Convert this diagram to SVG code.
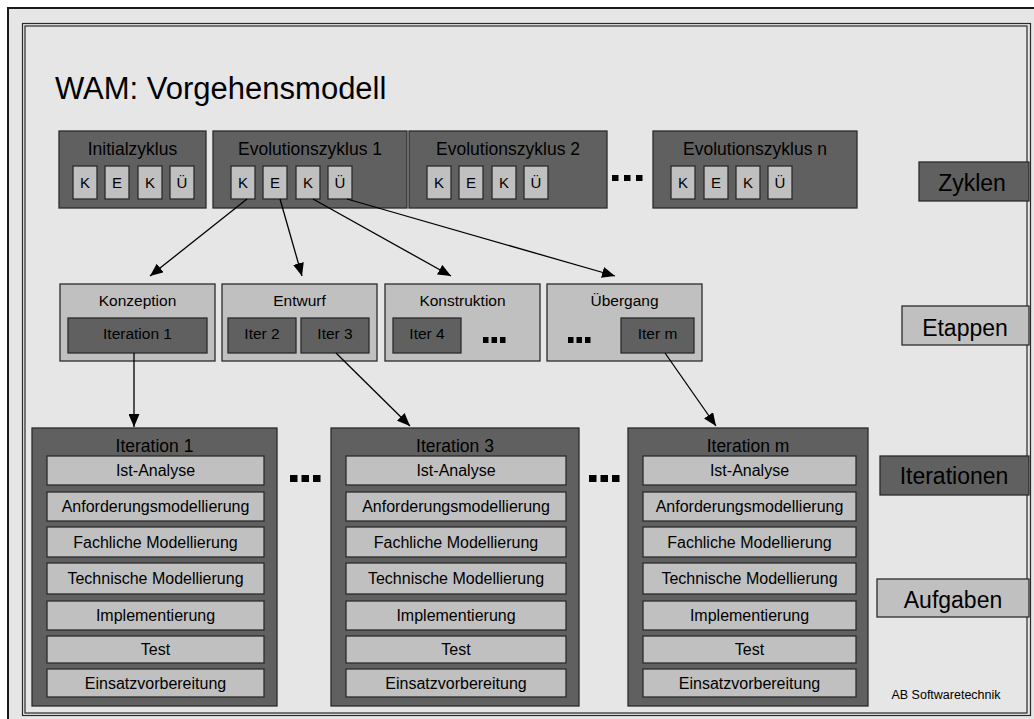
<svg xmlns="http://www.w3.org/2000/svg" width="1034" height="719" viewBox="0 0 1034 719">
  <defs>
    <style>
      text { font-family: "Liberation Sans", Arial, sans-serif; fill: #000; text-anchor: middle; }
      .dk { fill: #606060; stroke: #2b2b2b; stroke-width: 1.3; }
      .lt { fill: #c0c0c0; stroke: #2b2b2b; stroke-width: 1.3; }
      .frame { fill: none; stroke: #2a2a2a; stroke-width: 1.2; }
      .conn { fill: none; stroke: #000; stroke-width: 1.3; }
      .dots { fill: #000; }
      .cyc { font-size: 17.5px; }
      .kek { font-size: 15px; }
      .stg { font-size: 15.5px; }
      .it { font-size: 15.5px; }
      .ititle { font-size: 17.5px; }
      .task { font-size: 16px; }
      .side { font-size: 23px; }
    </style>
    <marker id="arrow" markerUnits="userSpaceOnUse" markerWidth="13" markerHeight="11" refX="13" refY="5.5" orient="auto">
      <path d="M0,0 L13,5.5 L0,11 Z" fill="#000"/>
    </marker>
  </defs>

  <!-- page background and frames -->
  <rect x="0" y="0" width="1034" height="719" fill="#ffffff"/>
  <rect x="8" y="8" width="1040" height="720" fill="#e6e6e6" stroke="#1a1a1a" stroke-width="2"/>
  <rect class="frame" x="22.5" y="23.5" width="1008" height="692"/>
  <rect class="frame" x="25" y="26" width="1002" height="687"/>

  <text x="55" y="99" style="font-size:31px;text-anchor:start">WAM: Vorgehensmodell</text>

  <!-- cycles -->
  <g id="initialzyklus">
    <rect class="dk" x="59" y="131" width="147" height="77"/>
    <text class="cyc" x="132.5" y="155">Initialzyklus</text>
    <rect class="lt" x="73" y="166" width="24" height="33"/><text class="kek" x="85" y="188">K</text>
    <rect class="lt" x="105" y="166" width="24" height="33"/><text class="kek" x="117" y="188">E</text>
    <rect class="lt" x="138" y="166" width="24" height="33"/><text class="kek" x="150" y="188">K</text>
    <rect class="lt" x="170" y="166" width="24" height="33"/><text class="kek" x="182" y="188">Ü</text>
  </g>
  <g id="evolutionszyklus-1">
    <rect class="dk" x="213" y="131" width="194" height="77"/>
    <text class="cyc" x="310" y="155">Evolutionszyklus 1</text>
    <rect class="lt" x="231" y="166" width="24" height="33"/><text class="kek" x="243" y="188">K</text>
    <rect class="lt" x="263" y="166" width="24" height="33"/><text class="kek" x="275" y="188">E</text>
    <rect class="lt" x="296" y="166" width="24" height="33"/><text class="kek" x="308" y="188">K</text>
    <rect class="lt" x="328" y="166" width="24" height="33"/><text class="kek" x="340" y="188">Ü</text>
  </g>
  <g id="evolutionszyklus-2">
    <rect class="dk" x="409" y="131" width="198" height="77"/>
    <text class="cyc" x="508" y="155">Evolutionszyklus 2</text>
    <rect class="lt" x="427" y="166" width="24" height="33"/><text class="kek" x="439" y="188">K</text>
    <rect class="lt" x="459" y="166" width="24" height="33"/><text class="kek" x="471" y="188">E</text>
    <rect class="lt" x="492" y="166" width="24" height="33"/><text class="kek" x="504" y="188">K</text>
    <rect class="lt" x="524" y="166" width="24" height="33"/><text class="kek" x="536" y="188">Ü</text>
  </g>
  <g id="cycle-dots" class="dots">
    <rect x="612" y="175" width="6.5" height="6"/>
    <rect x="624" y="175" width="6.5" height="6"/>
    <rect x="636" y="175" width="6.5" height="6"/>
  </g>
  <g id="evolutionszyklus-n">
    <rect class="dk" x="653" y="131" width="204" height="77"/>
    <text class="cyc" x="755" y="155">Evolutionszyklus n</text>
    <rect class="lt" x="671" y="166" width="24" height="33"/><text class="kek" x="683" y="188">K</text>
    <rect class="lt" x="704" y="166" width="24" height="33"/><text class="kek" x="716" y="188">E</text>
    <rect class="lt" x="736" y="166" width="24" height="33"/><text class="kek" x="748" y="188">K</text>
    <rect class="lt" x="768" y="166" width="24" height="33"/><text class="kek" x="780" y="188">Ü</text>
  </g>

  <!-- stages -->
  <g id="konzeption">
    <rect class="lt" x="60" y="284" width="155" height="77"/>
    <text class="stg" x="137.5" y="306">Konzeption</text>
    <rect class="dk" x="68" y="318" width="139" height="35"/>
    <text class="it" x="137.5" y="339">Iteration 1</text>
  </g>
  <g id="entwurf">
    <rect class="lt" x="222" y="284" width="155" height="77"/>
    <text class="stg" x="299.5" y="306">Entwurf</text>
    <rect class="dk" x="228" y="318" width="68" height="35"/>
    <text class="it" x="262" y="339">Iter 2</text>
    <rect class="dk" x="301" y="318" width="68" height="35"/>
    <text class="it" x="335" y="339">Iter 3</text>
  </g>
  <g id="konstruktion">
    <rect class="lt" x="385" y="284" width="155" height="77"/>
    <text class="stg" x="462.5" y="306">Konstruktion</text>
    <rect class="dk" x="393" y="318" width="68" height="35"/>
    <text class="it" x="427" y="339">Iter 4</text>
    <g class="dots">
      <rect x="483" y="337" width="5.5" height="6"/>
      <rect x="491.5" y="337" width="5.5" height="6"/>
      <rect x="500" y="337" width="5.5" height="6"/>
    </g>
  </g>
  <g id="uebergang">
    <rect class="lt" x="547" y="284" width="155" height="77"/>
    <text class="stg" x="624.5" y="306">Übergang</text>
    <g class="dots">
      <rect x="568" y="337" width="5.5" height="6"/>
      <rect x="576.5" y="337" width="5.5" height="6"/>
      <rect x="585" y="337" width="5.5" height="6"/>
    </g>
    <rect class="dk" x="621" y="318" width="73" height="35"/>
    <text class="it" x="657.5" y="339">Iter m</text>
  </g>

  <!-- iterations with their tasks -->
  <g id="iteration-1">
    <rect class="dk" x="32" y="428" width="245" height="278"/>
    <text class="ititle" x="154.5" y="452">Iteration 1</text>
    <rect class="lt" x="47" y="456" width="217" height="29"/><text class="task" x="155.5" y="476">Ist-Analyse</text>
    <rect class="lt" x="47" y="492" width="217" height="29"/><text class="task" x="155.5" y="512">Anforderungsmodellierung</text>
    <rect class="lt" x="47" y="527" width="217" height="30"/><text class="task" x="155.5" y="548">Fachliche Modellierung</text>
    <rect class="lt" x="47" y="563" width="217" height="31"/><text class="task" x="155.5" y="584">Technische Modellierung</text>
    <rect class="lt" x="47" y="601" width="217" height="29"/><text class="task" x="155.5" y="621">Implementierung</text>
    <rect class="lt" x="47" y="636" width="217" height="27"/><text class="task" x="155.5" y="655">Test</text>
    <rect class="lt" x="47" y="669" width="217" height="28"/><text class="task" x="155.5" y="689">Einsatzvorbereitung</text>
  </g>
  <g id="iteration-dots-1" class="dots">
    <rect x="290" y="475" width="7.5" height="7"/>
    <rect x="301.5" y="475" width="7.5" height="7"/>
    <rect x="313" y="475" width="7.5" height="7"/>
  </g>
  <g id="iteration-3">
    <rect class="dk" x="331" y="428" width="248" height="278"/>
    <text class="ititle" x="455" y="452">Iteration 3</text>
    <rect class="lt" x="346" y="456" width="220" height="29"/><text class="task" x="456" y="476">Ist-Analyse</text>
    <rect class="lt" x="346" y="492" width="220" height="29"/><text class="task" x="456" y="512">Anforderungsmodellierung</text>
    <rect class="lt" x="346" y="527" width="220" height="30"/><text class="task" x="456" y="548">Fachliche Modellierung</text>
    <rect class="lt" x="346" y="563" width="220" height="31"/><text class="task" x="456" y="584">Technische Modellierung</text>
    <rect class="lt" x="346" y="601" width="220" height="29"/><text class="task" x="456" y="621">Implementierung</text>
    <rect class="lt" x="346" y="636" width="220" height="27"/><text class="task" x="456" y="655">Test</text>
    <rect class="lt" x="346" y="669" width="220" height="28"/><text class="task" x="456" y="689">Einsatzvorbereitung</text>
  </g>
  <g id="iteration-dots-2" class="dots">
    <rect x="589" y="475" width="7.5" height="7"/>
    <rect x="600.5" y="475" width="7.5" height="7"/>
    <rect x="612" y="475" width="7.5" height="7"/>
  </g>
  <g id="iteration-m">
    <rect class="dk" x="628" y="428" width="240" height="278"/>
    <text class="ititle" x="748" y="452">Iteration m</text>
    <rect class="lt" x="643" y="456" width="213" height="29"/><text class="task" x="749.5" y="476">Ist-Analyse</text>
    <rect class="lt" x="643" y="492" width="213" height="29"/><text class="task" x="749.5" y="512">Anforderungsmodellierung</text>
    <rect class="lt" x="643" y="527" width="213" height="30"/><text class="task" x="749.5" y="548">Fachliche Modellierung</text>
    <rect class="lt" x="643" y="563" width="213" height="31"/><text class="task" x="749.5" y="584">Technische Modellierung</text>
    <rect class="lt" x="643" y="601" width="213" height="29"/><text class="task" x="749.5" y="621">Implementierung</text>
    <rect class="lt" x="643" y="636" width="213" height="27"/><text class="task" x="749.5" y="655">Test</text>
    <rect class="lt" x="643" y="669" width="213" height="28"/><text class="task" x="749.5" y="689">Einsatzvorbereitung</text>
  </g>

  <!-- level labels on the right -->
  <g id="label-zyklen">
    <rect class="dk" x="919" y="162" width="110" height="39"/>
    <text class="side" x="972" y="191">Zyklen</text>
  </g>
  <g id="label-etappen">
    <rect class="lt" x="902" y="306" width="127" height="39"/>
    <text class="side" x="965" y="336">Etappen</text>
  </g>
  <g id="label-iterationen">
    <rect class="dk" x="880" y="456" width="149" height="39"/>
    <text class="side" x="954" y="484">Iterationen</text>
  </g>
  <g id="label-aufgaben">
    <rect class="lt" x="877" y="579" width="152" height="38"/>
    <text class="side" x="953" y="608">Aufgaben</text>
  </g>

  <text x="946" y="699" style="font-size:12.5px">AB Softwaretechnik</text>

  <!-- connectors -->
  <g id="connectors">
    <line class="conn" x1="247" y1="199" x2="150" y2="276" marker-end="url(#arrow)"/>
    <line class="conn" x1="280" y1="199" x2="302" y2="276" marker-end="url(#arrow)"/>
    <line class="conn" x1="313" y1="199" x2="451" y2="276" marker-end="url(#arrow)"/>
    <line class="conn" x1="347" y1="199" x2="615" y2="276" marker-end="url(#arrow)"/>
    <line class="conn" x1="134" y1="353" x2="134" y2="427" marker-end="url(#arrow)"/>
    <line class="conn" x1="336" y1="353" x2="410" y2="426" marker-end="url(#arrow)"/>
    <line class="conn" x1="665" y1="353" x2="716" y2="426" marker-end="url(#arrow)"/>
  </g>
</svg>
